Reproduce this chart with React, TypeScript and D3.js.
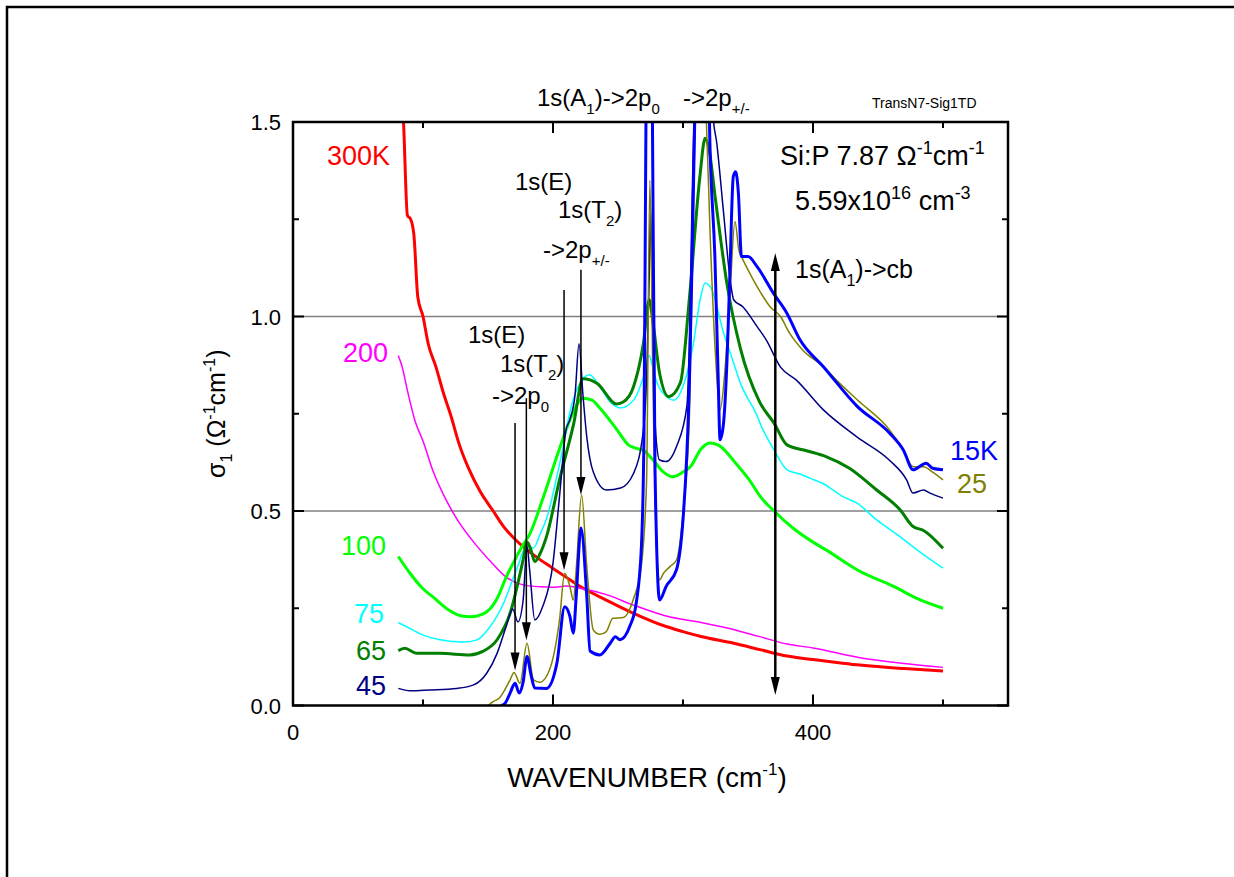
import React from 'react';
import * as d3 from 'd3';

// ---- data (wavenumber cm^-1, sigma_1 Ohm^-1 cm^-1) ----
const T300K: [number, number][] = [[80,1.70],[85,1.50],[88,1.26],[90.5,1.25],[93,1.21],[96,1.05],[100,1.0],[104,0.93],[110,0.87],[116,0.80],[121,0.75],[128,0.67],[135,0.61],[144,0.55],[154,0.50],[162,0.46],[170,0.43],[180,0.40],[190,0.375],[198,0.357],[210,0.33],[221,0.306],[241,0.271],[262,0.237],[287,0.203],[300,0.19],[313,0.178],[339,0.160],[360,0.143],[380,0.127],[400,0.118],[420,0.11],[436,0.104],[470,0.095],[500,0.089]];
const T200K: [number, number][] = [[81,0.90],[84,0.87],[88,0.81],[94,0.73],[100,0.68],[108,0.60],[116,0.54],[126,0.48],[139,0.42],[152,0.37],[164,0.33],[175,0.312],[190,0.305],[200,0.304],[210,0.307],[223,0.30],[241,0.285],[262,0.258],[287,0.23],[313,0.214],[334,0.199],[359,0.177],[380,0.158],[400,0.148],[436,0.123],[470,0.108],[500,0.098]];
const T100K: [number, number][] = [[81,0.383],[90,0.34],[100,0.30],[108,0.278],[120,0.245],[130,0.230],[136,0.228],[146,0.235],[152,0.25],[157,0.275],[164,0.33],[170,0.37],[177,0.413],[182,0.44],[192,0.53],[205,0.66],[215,0.75],[223,0.79],[230,0.785],[236,0.765],[249,0.71],[258,0.67],[263,0.662],[270,0.655],[276,0.635],[285,0.60],[292,0.588],[300,0.60],[306,0.615],[314,0.66],[321,0.675],[328,0.668],[340,0.625],[351,0.58],[360,0.535],[370,0.50],[385,0.455],[400,0.42],[410,0.40],[436,0.345],[462,0.306],[482,0.272],[500,0.25]];
const T75K: [number, number][] = [[81,0.213],[87,0.203],[100,0.181],[113,0.169],[131,0.163],[141,0.168],[151,0.20],[162,0.263],[172,0.35],[180,0.41],[185,0.405],[190,0.44],[195,0.48],[205,0.62],[215,0.78],[222,0.835],[228,0.85],[236,0.82],[244,0.78],[252,0.765],[262,0.785],[270,0.85],[274,0.90],[276,0.88],[279,0.84],[287,0.795],[293,0.785],[300,0.82],[308,0.93],[313,1.04],[317,1.086],[322,1.07],[331,0.96],[339,0.88],[344,0.83],[357,0.745],[360,0.72],[370,0.657],[380,0.606],[390,0.595],[398,0.584],[408,0.57],[423,0.537],[434,0.52],[449,0.477],[467,0.434],[480,0.40],[500,0.353]];
const T65K: [number, number][] = [[81,0.141],[86,0.147],[95,0.134],[113,0.134],[136,0.130],[146,0.139],[157,0.169],[167,0.237],[177,0.374],[180,0.42],[183,0.40],[186,0.37],[190,0.39],[195,0.434],[205,0.58],[216,0.726],[223,0.84],[234,0.828],[249,0.775],[254,0.78],[262,0.82],[269.5,0.93],[274,1.043],[277,0.983],[282,0.854],[289,0.794],[298,0.83],[305,1.05],[313,1.36],[317,1.458],[320,1.43],[325,1.30],[334,1.08],[344,0.92],[359,0.78],[370,0.726],[380,0.67],[395,0.655],[410,0.64],[428,0.61],[449,0.554],[467,0.503],[477,0.46],[485,0.45],[500,0.404]];
const T45K: [number, number][] = [[81,0.044],[90,0.038],[105,0.04],[126,0.044],[139,0.053],[149,0.083],[157,0.134],[164,0.203],[169,0.248],[173,0.215],[177,0.27],[180,0.41],[182,0.35],[186,0.22],[192,0.254],[200,0.366],[205,0.537],[210,0.708],[213,0.735],[217,0.80],[220,0.93],[223,0.80],[226,0.69],[231,0.60],[241,0.554],[252,0.559],[262,0.597],[269.5,0.708],[272,0.84],[274,1.1],[275,1.28],[276.5,1.0],[279,0.70],[282,0.631],[287,0.627],[295,0.666],[303,0.77],[305,0.95],[307,1.3],[309,1.6],[315,2.0],[321,1.8],[323,1.52],[326,1.445],[331,1.274],[336,1.103],[339,1.043],[346,1.025],[357,0.974],[364,0.94],[375,0.87],[387,0.837],[408,0.76],[434,0.69],[459,0.63],[472,0.58],[477,0.546],[485,0.554],[490,0.546],[500,0.533]];
const T25K: [number, number][] = [[150,0.0],[154,0.01],[159,0.02],[162,0.035],[167,0.066],[170,0.085],[174.6,0.057],[180,0.16],[185,0.066],[190,0.06],[197.7,0.095],[205,0.22],[209,0.34],[213,0.306],[215.6,0.271],[218,0.357],[222,0.541],[226,0.357],[231,0.194],[236,0.183],[241,0.19],[246,0.224],[254,0.226],[262,0.275],[268,0.36],[272,0.58],[274.5,1.35],[277,0.8],[280,0.38],[282,0.323],[285,0.34],[290,0.357],[295,0.374],[300,0.494],[305,0.75],[308,1.3],[313,1.8],[318,1.5],[321,1.2],[325,0.9],[328.5,0.76],[332,0.85],[336,1.05],[340,1.244],[343,1.17],[345,1.154],[350,1.12],[357,1.077],[367,1.025],[375,1.0],[382,0.957],[392,0.914],[408,0.871],[420,0.83],[434,0.786],[459,0.708],[469.5,0.657],[477,0.614],[485,0.614],[492,0.6],[500,0.58]];
const T15K: [number, number][] = [[160,0.0],[163,0.005],[167,0.032],[170.8,0.057],[174,0.032],[177,0.06],[180,0.126],[183,0.08],[186,0.045],[195,0.044],[203,0.109],[209,0.254],[213,0.229],[215.6,0.186],[218,0.289],[221.5,0.456],[226,0.28],[228.5,0.14],[236,0.13],[244,0.16],[248,0.177],[251.5,0.169],[259,0.203],[264,0.263],[268,0.408],[270,0.7],[271.5,1.5],[274,2.2],[276.5,1.5],[278.5,0.6],[282,0.271],[287,0.306],[295,0.349],[300,0.477],[303,0.65],[305,0.84],[307,1.15],[309,1.5],[312,2.0],[315,2.2],[318,1.9],[320.7,1.445],[324.6,1.146],[327,0.85],[328.5,0.683],[331,0.72],[334,0.9],[336,1.103],[338.7,1.36],[340.5,1.372],[342.6,1.317],[345,1.154],[350,1.154],[357,1.128],[369.5,1.06],[380,1.008],[390,0.94],[408,0.871],[434,0.769],[459,0.70],[469.5,0.657],[477,0.606],[487,0.623],[492,0.61],[500,0.606]];

const X_MAJOR = [0, 200, 400];
const X_MINOR = [100, 300, 500];
const Y_MAJOR = [0, 0.5, 1.0, 1.5];
const Y_MINOR = [0.25, 0.75, 1.25];
const GRID_Y = [0.5, 1.0];

// arrows: [wavenumber, tail sigma, tip sigma]
const ARROWS: [number, number, number][] = [[170.8, 0.726, 0.09], [179.5, 0.79, 0.168], [208.5, 1.068, 0.348], [221.5, 1.12, 0.541]];
const CB_ARROW: [number, number, number] = [371, 0.027, 1.163];

const SERIES = [
  { key: '300K', data: T300K, color: '#ff0000', w: 3 },
  { key: '200', data: T200K, color: '#ff00ff', w: 1.5 },
  { key: '100', data: T100K, color: '#00ff00', w: 3 },
  { key: '75', data: T75K, color: '#00ffff', w: 1.5 },
  { key: '65', data: T65K, color: '#007f00', w: 3 },
  { key: '45', data: T45K, color: '#000080', w: 1.5 },
  { key: '25', data: T25K, color: '#808000', w: 1.5 },
  { key: '15K', data: T15K, color: '#0000ff', w: 3 },
];

const FONT = '"Liberation Sans", Arial, sans-serif';

export default function App() {
  const W = 1234, H = 877;
  const L = 293, R = 1008, T = 122, B = 705.5;
  const x = d3.scaleLinear().domain([0, 550]).range([L, R]);
  const y = d3.scaleLinear().domain([0, 1.5]).range([B, T]);
  const line = d3.line<[number, number]>().x(d => x(d[0])).y(d => y(d[1])).curve(d3.curveMonotoneX);

  const head = (px: number, py: number, dir: number) => {
    const len = 18, hw = 4.5;
    return `M${px},${py} L${px - hw},${py - dir * len} L${px + hw},${py - dir * len} Z`;
  };

  return (
    <svg width={W} height={H} style={{ position: 'absolute', left: 0, top: 0, background: '#fff' }} fontFamily={FONT}>
      <rect x={0} y={0} width={W} height={H} fill="#fff" />
      <rect x={7} y={7} width={1400} height={1000} fill="none" stroke="#000" strokeWidth={2.5} />
      <defs>
        <clipPath id="plotclip"><rect x={L} y={T} width={R - L} height={B - T} /></clipPath>
      </defs>
      {GRID_Y.map(v => <line key={v} x1={L} x2={R} y1={y(v)} y2={y(v)} stroke="#808080" strokeWidth={1.5} />)}
      <g clipPath="url(#plotclip)">
        {SERIES.map(s => (
          <path key={s.key} d={line(s.data) || ''} fill="none" stroke={s.color} strokeWidth={s.w} strokeLinejoin="round" />
        ))}
      </g>
      {ARROWS.map((a, i) => (
        <g key={i}>
          <line x1={x(a[0])} x2={x(a[0])} y1={y(a[1])} y2={y(a[2]) - 10} stroke="#000" strokeWidth={1.5} />
          <path d={head(x(a[0]), y(a[2]), 1)} fill="#000" />
        </g>
      ))}
      <g>
        <line x1={x(CB_ARROW[0])} x2={x(CB_ARROW[0])} y1={y(CB_ARROW[1]) - 10} y2={y(CB_ARROW[2]) + 10} stroke="#000" strokeWidth={2.5} />
        <path d={head(x(CB_ARROW[0]), y(CB_ARROW[1]), 1)} fill="#000" />
        <path d={head(x(CB_ARROW[0]), y(CB_ARROW[2]), -1)} fill="#000" />
      </g>
      <rect x={L} y={T} width={R - L} height={B - T} fill="none" stroke="#000" strokeWidth={2.5} />
      {X_MAJOR.map(v => <g key={v}>
        <line x1={x(v)} x2={x(v)} y1={B} y2={B - 11} stroke="#000" strokeWidth={2} />
        <line x1={x(v)} x2={x(v)} y1={T} y2={T + 11} stroke="#000" strokeWidth={2} />
        <text x={x(v)} y={740} textAnchor="middle" fontSize={22}>{v}</text>
      </g>)}
      {X_MINOR.map(v => <g key={v}>
        <line x1={x(v)} x2={x(v)} y1={B} y2={B - 6} stroke="#000" strokeWidth={2} />
        <line x1={x(v)} x2={x(v)} y1={T} y2={T + 6} stroke="#000" strokeWidth={2} />
      </g>)}
      {Y_MAJOR.map(v => <g key={v}>
        <line x1={L} x2={L + 11} y1={y(v)} y2={y(v)} stroke="#000" strokeWidth={2} />
        <line x1={R} x2={R - 11} y1={y(v)} y2={y(v)} stroke="#000" strokeWidth={2} />
        <text x={281} y={y(v) + 8} textAnchor="end" fontSize={22}>{v.toFixed(1)}</text>
      </g>)}
      {Y_MINOR.map(v => <g key={v}>
        <line x1={L} x2={L + 6} y1={y(v)} y2={y(v)} stroke="#000" strokeWidth={2} />
        <line x1={R} x2={R - 6} y1={y(v)} y2={y(v)} stroke="#000" strokeWidth={2} />
      </g>)}
      <text x={647} y={787} textAnchor="middle" fontSize={28}>
        WAVENUMBER (cm<tspan fontSize={17} dy={-12}>-1</tspan><tspan dy={12}>)</tspan>
      </text>
      <text transform={`translate(225,${(T + B) / 2}) rotate(-90)`} textAnchor="middle" fontSize={25}>
        σ<tspan fontSize={16} dy={7}>1</tspan><tspan dy={-7}> (Ω</tspan><tspan fontSize={16} dy={-10}>-1</tspan><tspan dy={10}>cm</tspan><tspan fontSize={16} dy={-10}>-1</tspan><tspan dy={10}>)</tspan>
      </text>
      <text x={390} y={165} textAnchor="end" fontSize={27} fill="#ff0000">300K</text>
      <text x={388} y={362} textAnchor="end" fontSize={27} fill="#ff00ff">200</text>
      <text x={386} y={555} textAnchor="end" fontSize={27} fill="#00ff00">100</text>
      <text x={384} y={623} textAnchor="end" fontSize={27} fill="#00ffff">75</text>
      <text x={386} y={660} textAnchor="end" fontSize={27} fill="#007f00">65</text>
      <text x={386} y={695} textAnchor="end" fontSize={27} fill="#000080">45</text>
      <text x={950} y={460} fontSize={27} fill="#0000ff">15K</text>
      <text x={957} y={493} fontSize={27} fill="#808000">25</text>
      <text x={537} y={106} fontSize={24}>1s(A<tspan fontSize={15} dy={8}>1</tspan><tspan dy={-8}>)-&gt;2p</tspan><tspan fontSize={15} dy={8}>0</tspan></text>
      <text x={683} y={106} fontSize={24}>-&gt;2p<tspan fontSize={15} dy={8}>+/-</tspan></text>
      <text x={872} y={108} fontSize={14}>TransN7-Sig1TD</text>
      <text x={515} y={190} fontSize={24}>1s(E)</text>
      <text x={558} y={218} fontSize={24}>1s(T<tspan fontSize={15} dy={8}>2</tspan><tspan dy={-8}>)</tspan></text>
      <text x={543} y={258} fontSize={24}>-&gt;2p<tspan fontSize={15} dy={8}>+/-</tspan></text>
      <text x={468} y={343} fontSize={24}>1s(E)</text>
      <text x={500} y={372} fontSize={24}>1s(T<tspan fontSize={15} dy={8}>2</tspan><tspan dy={-8}>)</tspan></text>
      <text x={492} y={404} fontSize={24}>-&gt;2p<tspan fontSize={15} dy={8}>0</tspan></text>
      <text x={780} y={165} fontSize={27}>Si:P 7.87 Ω<tspan fontSize={18} dy={-11}>-1</tspan><tspan dy={11}>cm</tspan><tspan fontSize={18} dy={-11}>-1</tspan></text>
      <text x={795} y={210} fontSize={27}>5.59x10<tspan fontSize={18} dy={-11}>16</tspan><tspan dy={11}> cm</tspan><tspan fontSize={18} dy={-11}>-3</tspan></text>
      <text x={795} y={278} fontSize={25}>1s(A<tspan fontSize={16} dy={8}>1</tspan><tspan dy={-8}>)-&gt;cb</tspan></text>
    </svg>
  );
}
